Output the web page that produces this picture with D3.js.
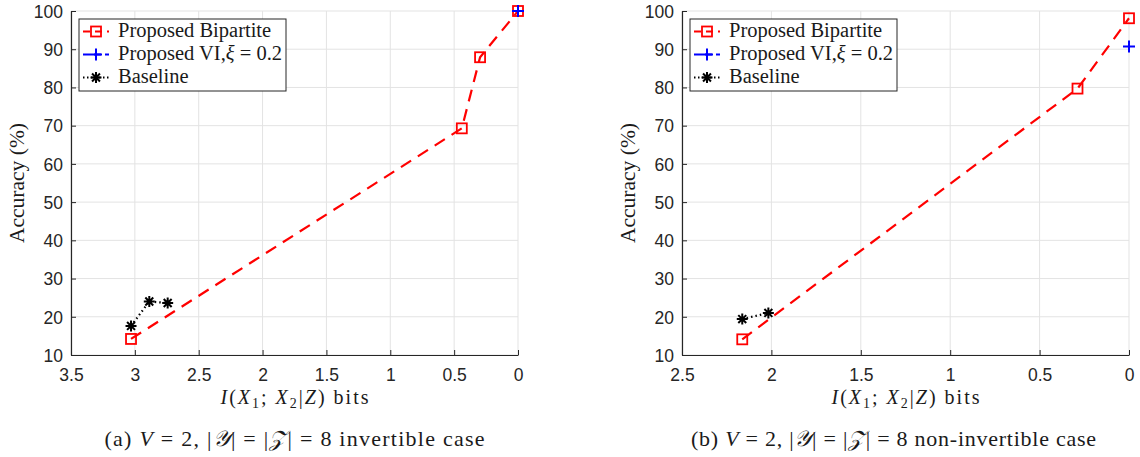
<!DOCTYPE html>
<html>
<head>
<meta charset="utf-8">
<script src="https://cdn.jsdelivr.net/npm/d3@7"></script>
<style>
  body { margin: 0; background: #fff; }
</style>
</head>
<body>
<svg id="chart" width="1140" height="457"></svg>
<script>
// Tick values
var yTicks = [10, 20, 30, 40, 50, 60, 70, 80, 90, 100];
var xTicksA = [3.5, 3, 2.5, 2, 1.5, 1, 0.5, 0];
var xTicksB = [2.5, 2, 1.5, 1, 0.5, 0];

// (a) invertible case
var bipartiteA_x = [3.03, 0.44, 0.297, 0.0];
var bipartiteA_y = [14.2, 69.3, 87.9, 100];
var viA_x = [0.0];
var viA_y = [100];
var baselineA_x = [3.03, 2.887, 2.743];
var baselineA_y = [17.6, 24.0, 23.6];

// (b) non-invertible case
var bipartiteB_x = [2.163, 0.288, 0.0];
var bipartiteB_y = [14.1, 79.7, 98.1];
var viB_x = [0.0];
var viB_y = [90.7];
var baselineB_x = [2.163, 2.017];
var baselineB_y = [19.4, 21.0];

var legendNames = ["Proposed Bipartite", "Proposed VI,", "Baseline"];

var svg = d3.select("#chart");
var axisColor = "#262626";
var gridColor = "#e3e3e3";
var serifFont = "'Liberation Serif', 'DejaVu Serif', serif";
var sansFont = "'Liberation Sans', Arial, sans-serif";

function zip(xs, ys) {
    return xs.map(function(d, i) { return { x: d, y: ys[i] }; });
}

function serifText(sel, size) {
    return sel.append("text")
        .style("font-family", serifFont)
        .style("font-size", size + "px")
        .attr("fill", "#1a1a1a");
}

// marker drawers
function square(g, cx, cy) {
    g.append("rect")
        .attr("x", cx - 5).attr("y", cy - 5)
        .attr("width", 10).attr("height", 10)
        .attr("fill", "none").attr("stroke", "red").attr("stroke-width", 1.8);
}
function plus(g, cx, cy) {
    g.append("path")
        .attr("d", "M" + (cx - 6) + "," + cy + "H" + (cx + 6) + "M" + cx + "," + (cy - 6) + "V" + (cy + 6))
        .attr("stroke", "blue").attr("stroke-width", 2).attr("fill", "none");
}
function star(g, cx, cy) {
    var r = 5.5, d = r * 0.72;
    g.append("path")
        .attr("d", "M" + (cx - r) + "," + cy + "H" + (cx + r) +
            "M" + cx + "," + (cy - r) + "V" + (cy + r) +
            "M" + (cx - d) + "," + (cy - d) + "L" + (cx + d) + "," + (cy + d) +
            "M" + (cx - d) + "," + (cy + d) + "L" + (cx + d) + "," + (cy - d))
        .attr("stroke", "black").attr("stroke-width", 2).attr("fill", "none");
}

function drawPanel(cfg) {
    var left = cfg.left, top = 11, width = 447, height = 344;
    var g = svg.append("g").attr("transform", "translate(" + left + "," + top + ")");

    var x = d3.scaleLinear().domain([cfg.xTicks[0], 0]).range([0, width]);
    var y = d3.scaleLinear().domain([10, 100]).range([height, 0]);

    // Grid
    g.selectAll(".vgrid").data(cfg.xTicks).enter().append("line")
        .attr("x1", function(d) { return x(d); }).attr("x2", function(d) { return x(d); })
        .attr("y1", 0).attr("y2", height)
        .attr("stroke", gridColor).attr("stroke-width", 1);
    g.selectAll(".hgrid").data(yTicks).enter().append("line")
        .attr("y1", function(d) { return y(d); }).attr("y2", function(d) { return y(d); })
        .attr("x1", 0).attr("x2", width)
        .attr("stroke", gridColor).attr("stroke-width", 1);

    // Axes
    var xAxis = g.append("g").attr("transform", "translate(0," + height + ")")
        .call(d3.axisBottom(x).tickValues(cfg.xTicks).tickSize(-5).tickSizeOuter(0)
            .tickFormat(d3.format("")).tickPadding(8));
    var yAxis = g.append("g")
        .call(d3.axisLeft(y).tickValues(yTicks).tickSize(-5).tickSizeOuter(0).tickPadding(8));
    [xAxis, yAxis].forEach(function(a) {
        a.attr("font-family", sansFont).attr("font-size", 17.5);
        a.select(".domain").attr("stroke", axisColor).attr("stroke-width", 1.2);
        a.selectAll(".tick line").attr("stroke", axisColor).attr("stroke-width", 1);
        a.selectAll(".tick text").attr("fill", axisColor);
    });
    xAxis.selectAll(".tick text").attr("dy", "1.0em");
    yAxis.selectAll(".tick text").attr("dy", "0.36em");

    // Lines
    var line = d3.line().x(function(d) { return x(d.x); }).y(function(d) { return y(d.y); });

    var bip = zip(cfg.bipX, cfg.bipY);
    var base = zip(cfg.baseX, cfg.baseY);
    var vi = zip(cfg.viX, cfg.viY);

    g.append("path").datum(bip).attr("d", line)
        .attr("fill", "none").attr("stroke", "red").attr("stroke-width", 2.2)
        .attr("stroke-dasharray", "12,8");
    g.append("path").datum(base).attr("d", line)
        .attr("fill", "none").attr("stroke", "black").attr("stroke-width", 2.2)
        .attr("stroke-dasharray", "1.5,3");
    g.append("path").datum(vi).attr("d", line)
        .attr("fill", "none").attr("stroke", "blue").attr("stroke-width", 2.2)
        .attr("stroke-dasharray", "12,8");

    bip.forEach(function(d) { square(g, x(d.x), y(d.y)); });
    base.forEach(function(d) { star(g, x(d.x), y(d.y)); });
    vi.forEach(function(d) { plus(g, x(d.x), y(d.y)); });

    // Axis labels
    var xl = serifText(g, 20).attr("x", width / 2).attr("y", 393).attr("text-anchor", "middle")
        .attr("textLength", 148).attr("lengthAdjust", "spacing");
    xl.append("tspan").style("font-style", "italic").text("I");
    xl.append("tspan").text("(");
    xl.append("tspan").style("font-style", "italic").text("X");
    xl.append("tspan").style("font-size", "14px").attr("dy", 4).text("1");
    xl.append("tspan").attr("dy", -4).text("; ");
    xl.append("tspan").style("font-style", "italic").text("X");
    xl.append("tspan").style("font-size", "14px").attr("dy", 4).text("2");
    xl.append("tspan").attr("dy", -4).text("|");
    xl.append("tspan").style("font-style", "italic").text("Z");
    xl.append("tspan").text(") bits");

    serifText(g, 21.5)
        .attr("transform", "translate(-47," + (height / 2) + ") rotate(-90)")
        .attr("text-anchor", "middle")
        .attr("textLength", 120).attr("lengthAdjust", "spacing")
        .text("Accuracy (%)");

    // Caption
    var cap = serifText(g, 22)
        .attr("x", width / 2 + cfg.capShift).attr("y", 435).attr("text-anchor", "middle")
        .attr("textLength", cfg.capLen).attr("lengthAdjust", "spacing");
    cap.append("tspan").text(cfg.capLetter + " ");
    cap.append("tspan").style("font-style", "italic").text("V");
    cap.append("tspan").text(" = 2, |");
    cap.append("tspan").style("font-style", "italic").text("\uD835\uDCB4");
    cap.append("tspan").text("| = |");
    cap.append("tspan").style("font-style", "italic").text("\uD835\uDCB5");
    cap.append("tspan").text("| = 8 " + cfg.capText);

    // Legend
    var lg = g.append("g").attr("transform", "translate(8,8)");
    lg.append("rect").attr("width", 207).attr("height", 72)
        .attr("fill", "white").attr("stroke", axisColor).attr("stroke-width", 1);
    var rows = [12.5, 35.5, 58.5];
    var sx0 = 4, sx1 = 30, sm = 17, tx = 39;
    lg.append("line").attr("x1", sx0).attr("x2", sx1).attr("y1", rows[0]).attr("y2", rows[0])
        .attr("stroke", "red").attr("stroke-width", 2.2).attr("stroke-dasharray", "7,5");
    square(lg, sm, rows[0]);
    lg.append("line").attr("x1", sx0).attr("x2", sx1).attr("y1", rows[1]).attr("y2", rows[1])
        .attr("stroke", "blue").attr("stroke-width", 2.2).attr("stroke-dasharray", "7,4");
    plus(lg, sm, rows[1]);
    lg.append("line").attr("x1", sx0).attr("x2", sx1).attr("y1", rows[2]).attr("y2", rows[2])
        .attr("stroke", "black").attr("stroke-width", 2.2).attr("stroke-dasharray", "1.5,2.5");
    star(lg, sm, rows[2]);

    serifText(lg, 20.5).attr("x", tx).attr("y", rows[0] + 5.5).text(legendNames[0]);
    var t2 = serifText(lg, 20.5).attr("x", tx).attr("y", rows[1] + 5.5);
    t2.append("tspan").text(legendNames[1]);
    t2.append("tspan").style("font-style", "italic").text("\u03BE");
    t2.append("tspan").text(" = 0.2");
    serifText(lg, 20.5).attr("x", tx).attr("y", rows[2] + 5.5).text(legendNames[2]);
}

drawPanel({
    left: 71, xTicks: xTicksA,
    bipX: bipartiteA_x, bipY: bipartiteA_y,
    viX: viA_x, viY: viA_y,
    baseX: baselineA_x, baseY: baselineA_y,
    capLetter: "(a)", capText: "invertible case", capShift: 0, capLen: 380
});
drawPanel({
    left: 682, xTicks: xTicksB,
    bipX: bipartiteB_x, bipY: bipartiteB_y,
    viX: viB_x, viY: viB_y,
    baseX: baselineB_x, baseY: baselineB_y,
    capLetter: "(b)", capText: "non-invertible case", capShift: -12, capLen: 405
});
</script>
</body>
</html>
